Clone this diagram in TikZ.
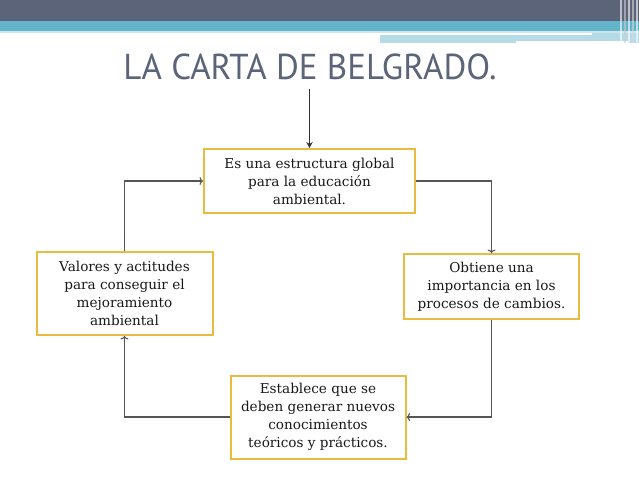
\documentclass[tikz,border=0pt]{standalone}
\usepackage{fontspec}
\setmainfont{DejaVu Serif}
\newfontfamily\titlefont[FakeStretch=0.97]{PT Sans}
\usetikzlibrary{positioning,arrows.meta}
\definecolor{slate}{HTML}{5C6479}
\definecolor{teal}{HTML}{63B4CB}
\definecolor{paleteal}{HTML}{B5DBE6}
\definecolor{boxgold}{HTML}{E9BC3F}
\definecolor{linkgray}{HTML}{555555}

\begin{document}
\begin{tikzpicture}[x=1pt, y=-1pt, auto,
                    main node/.style={draw=boxgold, line width=2pt, fill=white, align=center,
                                      inner sep=2pt, text=black!90, font=\fontsize{13.6}{18}\selectfont},
                    link/.style={draw=linkgray, line width=1.1pt, -{To[length=3.5pt,width=8pt]}}]
  % page and banner
  \fill[white] (0,0) rectangle (639,480);
  \useasboundingbox (0,0) rectangle (639,480);
  \fill[slate] (0,0) rectangle (639,21);
  \fill[teal] (0,21) rectangle (639,31);
  \fill[paleteal!70] (0,31) rectangle (639,33);
  \fill[paleteal] (380,33) rectangle (639,43);
  \fill[white] (0,33) rectangle (592,35);
  \fill[white] (516,41) rectangle (628,43);
  \foreach \x/\c in {620/white, 624/gray!40, 628/white, 632/gray!30, 636/white}
    \fill[\c, opacity=0.6] (\x,0) rectangle (\x+2,43);

  \node[text=slate, font=\titlefont\fontsize{36}{40}\selectfont] (title) at (310,67) {LA CARTA DE BELGRADO.};

  \node[main node, minimum width=211, minimum height=64] (1) at (309.5,181)
    {Es una estructura global\\para la educación\\ambiental.};
  \node[main node, minimum width=175, minimum height=65] (2) at (491.5,286.5)
    {Obtiene una\\importancia en los\\procesos de cambios.};
  \node[main node, minimum width=175, minimum height=83] (3) at (318,417)
    {Establece que se\\deben generar nuevos\\conocimientos\\teóricos y prácticos.};
  \node[main node, minimum width=176, minimum height=83] (4) at (124.5,293.5)
    {Valores y actitudes\\para conseguir el\\mejoramiento\\ambiental};
  \coordinate (0) at (309.5,89);

  \draw[line width=1.8pt, black!80, -{Stealth[length=6pt,width=6.5pt]}] (0) -- (1.north);
  \draw[link] (1.east) -| (2.north);
  \draw[link] (2.south) |- (3.east);
  \draw[link] (3.west) -| (4.south);
  \draw[link] (4.north) |- (1.west);
\end{tikzpicture}
\end{document}
